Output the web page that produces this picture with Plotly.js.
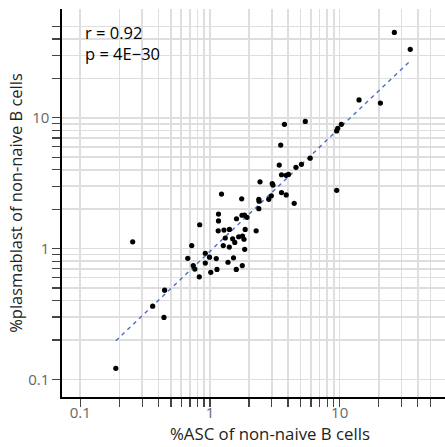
<!DOCTYPE html>
<html>
<head>
<meta charset="utf-8">
<script src="https://cdn.plot.ly/plotly-3.0.1.min.js"></script>
<style>html,body{margin:0;padding:0;background:#fff;}#chart{width:445px;height:447px;}</style>
</head>
<body>
<div id="chart"></div>
<script>
// %ASC of non-naive B cells (x) vs %plasmablast of non-naive B cells (y)
const ascPct = [26.4, 35.0, 14.1, 20.6, 5.43, 3.75, 10.3, 9.66, 9.48, 3.51,
  5.92, 5.07, 4.60, 3.42, 3.56, 3.87, 4.03, 2.43, 3.02, 3.06,
  3.56, 3.87, 9.48, 2.38, 2.39, 2.84, 2.97, 4.46, 2.38, 1.227,
  1.756, 1.163, 1.163, 0.833, 1.601, 1.765, 1.845, 1.929, 2.27, 1.157,
  1.282, 1.413, 1.868, 1.312, 1.496, 1.665, 1.781, 1.829, 1.553, 1.266,
  1.409, 1.852, 0.723, 0.2535, 0.920, 0.674, 0.991, 1.118, 1.518, 0.743,
  0.764, 0.920, 1.377, 1.774, 1.132, 1.595, 1.014, 0.827, 0.447, 0.3616,
  0.4418, 0.1878];
const plasmablastPct = [45.0, 33.4, 13.7, 12.97, 9.39, 8.91, 8.91, 8.32, 7.94, 6.19,
  4.91, 4.41, 4.18, 4.35, 3.67, 3.63, 3.69, 3.24, 3.14, 3.06,
  2.68, 2.57, 2.79, 2.38, 2.30, 2.38, 2.53, 2.22, 2.02, 2.61,
  2.40, 1.836, 1.628, 1.521, 1.690, 1.798, 1.804, 1.735, 1.366, 1.366,
  1.385, 1.402, 1.402, 1.205, 1.188, 1.231, 1.246, 1.178, 1.115, 1.054,
  1.027, 0.986, 1.054, 1.127, 0.921, 0.842, 0.860, 0.839, 0.849, 0.741,
  0.697, 0.774, 0.786, 0.741, 0.693, 0.693, 0.658, 0.608, 0.481, 0.363,
  0.2977, 0.1215];
// fitted regression line end points
const fitX = [0.188, 35.6];
const fitY = [0.197, 27.7];
// axis ticks
const majorTicks = [0.1, 1, 10];
const majorTickText = ['0.1', '1', '10'];
const minorTicks = [0.2, 0.3, 0.4, 0.5, 0.6, 0.7, 0.8, 0.9, 2, 3, 4, 5, 6, 7, 8, 9, 20, 30, 40, 50];
const statText = ['r = 0.92', 'p = 4E\u221230'];
const xTitle = '%ASC of non-naive B cells';
const yTitle = '%plasmablast of non-naive B cells';

const FONT = 'Open Sans, sans-serif';
const gridCol = '#dedede';

function axis(range) {
  return {
    type: 'log',
    range: range,
    tickmode: 'array',
    tickvals: majorTicks,
    ticktext: majorTickText,
    ticks: 'outside',
    ticklen: 8,
    tickwidth: 1.2,
    tickcolor: '#444',
    showgrid: true,
    gridcolor: gridCol,
    gridwidth: 1.6,
    zeroline: false,
    showline: true,
    linecolor: '#000',
    linewidth: 1.6,
    tickfont: {family: FONT, size: 15, color: '#666'},
    minor: {
      tickmode: 'array',
      tickvals: minorTicks,
      ticks: 'outside',
      ticklen: 8,
      tickwidth: 1.2,
      tickcolor: '#444',
      showgrid: true,
      gridcolor: gridCol,
      gridwidth: 1.6
    }
  };
}

const xa = axis([-1.141, 1.812]);
xa.ticklabelstandoff = -7;
const ya = axis([-1.135, 1.832]);
ya.title = {text: yTitle, font: {family: FONT, size: 16.5, color: '#222'}, standoff: 1};

const data = [
  {x: fitX, y: fitY, mode: 'lines', type: 'scatter', name: 'fit',
   line: {color: '#4a6fbf', width: 1.4, dash: '4px,4px'}, hoverinfo: 'skip'},
  {x: ascPct, y: plasmablastPct, mode: 'markers', type: 'scatter', name: 'samples',
   marker: {color: '#000', size: 5.2}}
];

const layout = {
  width: 445, height: 447,
  margin: {l: 62, r: 0, t: 9, b: 50},
  paper_bgcolor: '#fff', plot_bgcolor: '#fff',
  showlegend: false,
  font: {family: FONT, color: '#222'},
  xaxis: xa,
  yaxis: ya,
  annotations: [
    {text: statText.join('<br>'), xref: 'paper', yref: 'paper', x: 0.056, y: (397 - 42.5) / 388,
     xanchor: 'left', yanchor: 'middle', align: 'left', showarrow: false,
     font: {family: FONT, size: 16.5, color: '#000'}},
    {text: xTitle, xref: 'paper', yref: 'paper', x: (270 - 62) / 383, y: -36 / 388,
     xanchor: 'center', yanchor: 'middle', showarrow: false, font: {family: FONT, size: 16.8, color: '#222'}}
  ]
};

Plotly.newPlot('chart', data, layout, {displayModeBar: false, staticPlot: true});
</script>
</body>
</html>
